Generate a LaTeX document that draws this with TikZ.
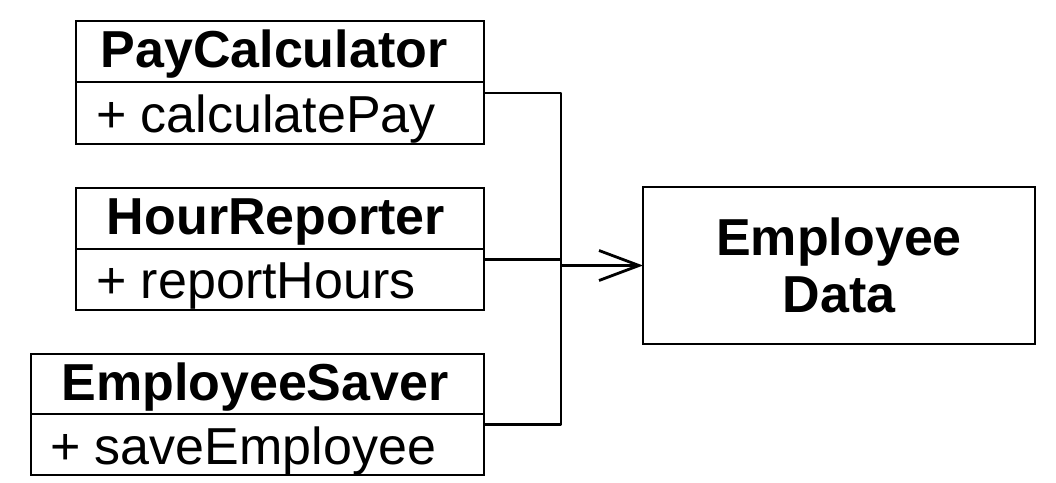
\documentclass[tikz,border=0pt]{standalone}
\usepackage{fontspec}
\setmainfont{Liberation Sans}
\usetikzlibrary{arrows.meta}

\tikzset{
  compartment/.style={draw, line width=2.8pt, rectangle, inner sep=0pt, outer sep=0pt, minimum width=408pt},
  classname/.style={font=\fontsize{52}{58}\selectfont\bfseries, inner sep=0pt, anchor=base},
  member/.style={font=\fontsize{52}{58}\selectfont, inner sep=0pt, anchor=base west},
  entity/.style={draw, line width=2.8pt, rectangle, inner sep=0pt, outer sep=0pt,
    minimum width=392pt, minimum height=157pt, align=center,
    font=\fontsize{52}{57}\selectfont\bfseries},
  wire/.style={line width=2.8pt, line join=round},
  depends/.style={wire, -{Straight Barb[length=40pt, width=30pt, line width=2.8pt]}}
}

\begin{document}
\begin{tikzpicture}[x=1pt, y=-1pt]
  \useasboundingbox (0,0) rectangle (1056,482);

  % PayCalculator class
  \node[compartment, minimum height=61pt] (pcHead) at (280,51.5) {};
  \node[compartment, minimum height=62pt, anchor=north] (pcBody) at (pcHead.south) {};
  \node[classname] (pcName) at (274,67) {PayCalculator};
  \node[member] (pcOp) at (96,132) {+ calculatePay};

  % HourReporter class
  \node[compartment, minimum height=61pt] (hrHead) at (280,218.5) {};
  \node[compartment, minimum height=61pt, anchor=north] (hrBody) at (hrHead.south) {};
  \node[classname] (hrName) at (276,234) {HourReporter};
  \node[member] (hrOp) at (96,298) {+ reportHours};

  % EmployeeSaver class (wider)
  \node[compartment, minimum width=453pt, minimum height=60pt] (esHead) at (257.5,384) {};
  \node[compartment, minimum width=453pt, minimum height=61pt, anchor=north] (esBody) at (esHead.south) {};
  \node[classname] (esName) at (255,400) {EmployeeSaver};
  \node[member] (esOp) at (50,464) {+ saveEmployee};

  % Shared data
  \node[entity] (data) at (839,265.5) {Employee\\Data};

  % Exit points on the class boxes and the collecting bus
  \coordinate (pcOut) at ([yshift=20pt]pcBody.east);
  \coordinate (hrOut) at ([yshift=20pt]hrBody.east);
  \coordinate (esOut) at ([yshift=20pt]esBody.east);
  \coordinate (busX) at (561,0);
  \coordinate (busTop) at (pcOut -| busX);
  \coordinate (busBot) at (esOut -| busX);
  \coordinate (busMid) at (data.west -| busX);

  \draw[wire] (pcOut) -- (busTop) -- (busBot) -- (esOut);
  \draw[wire] (hrOut) -- (hrOut -| busX);
  \draw[depends] (busMid) -- (data.west);
\end{tikzpicture}
\end{document}
